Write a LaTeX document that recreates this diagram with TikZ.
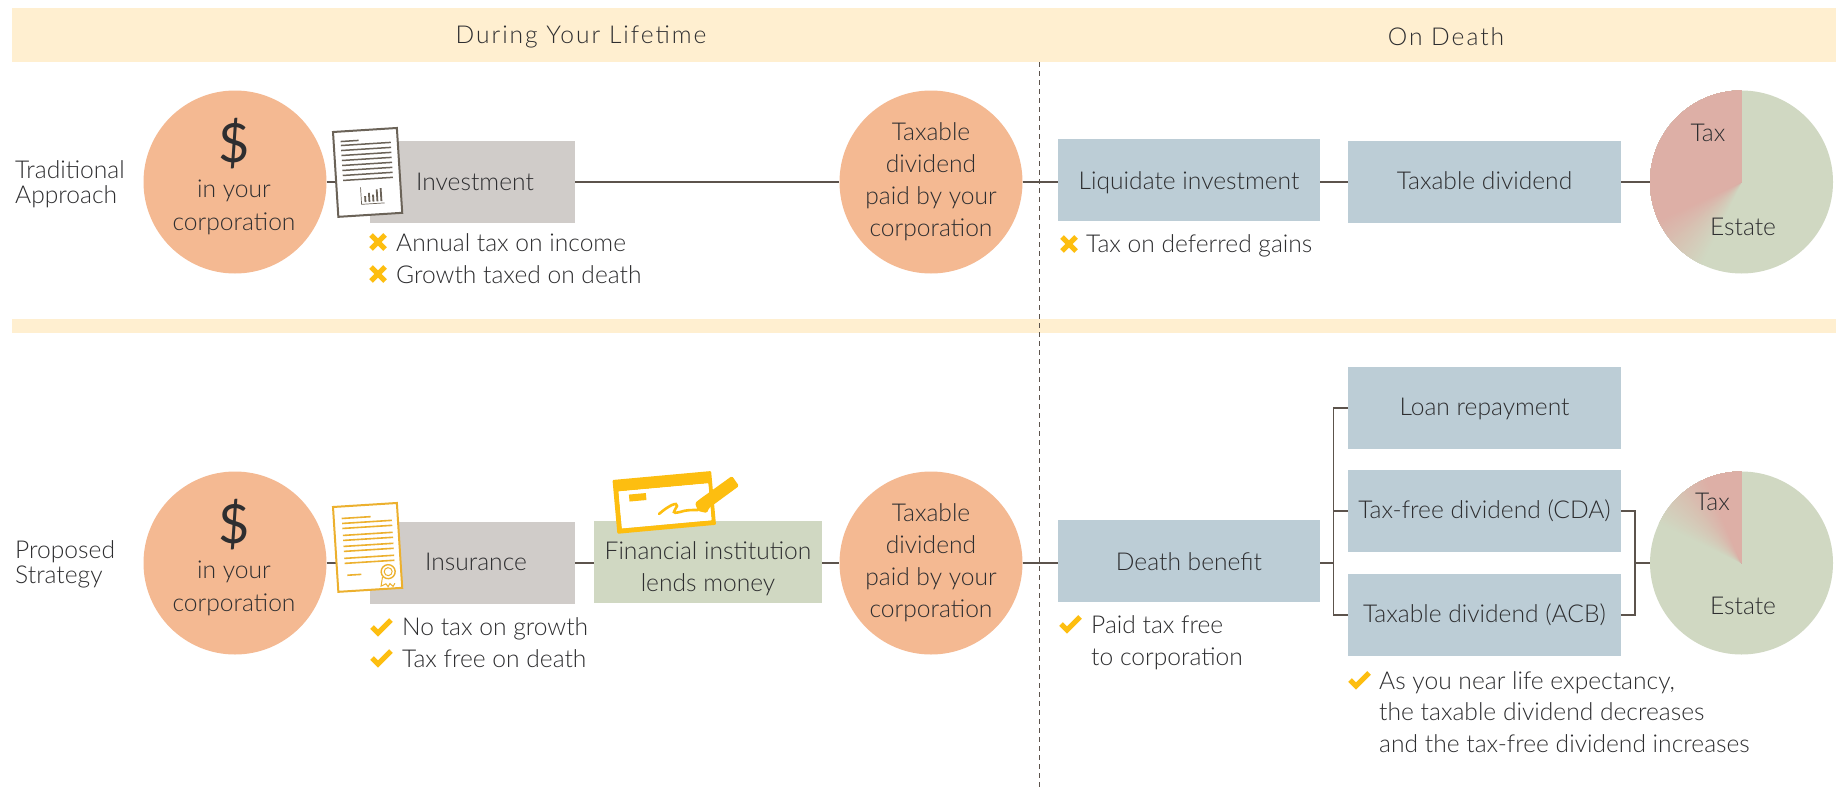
\documentclass[tikz,border=0pt]{standalone}
\usepackage{fontspec}
\setmainfont{Lato Light}
\newfontfamily\regfont{Lato}
\usetikzlibrary{calc}
\definecolor{banner}{HTML}{FFEFD0}
\definecolor{peach}{HTML}{F4B992}
\definecolor{greybox}{HTML}{D0CCC9}
\definecolor{bluebox}{HTML}{BCCDD6}
\definecolor{greenbox}{HTML}{D0D8C2}
\definecolor{piered}{HTML}{DDAFA6}
\definecolor{linec}{HTML}{5C534C}
\definecolor{ink}{HTML}{2E2E30}
\definecolor{gold}{HTML}{FDBE10}
\definecolor{certc}{HTML}{ECB02E}
\definecolor{docc}{HTML}{6B6358}
\tikzset{
  every node/.style={text=ink,font=\fontsize{24.6}{32}\selectfont},
  bannerbar/.style={fill=banner,draw=none},
  bubble/.style={circle,fill=peach,minimum size=183,inner sep=0,align=center},
  piebase/.style={circle,fill=greenbox,minimum size=183,inner sep=0},
  gbox/.style={fill=greybox,minimum width=205,minimum height=82,inner sep=0,align=center},
  bbox/.style={fill=bluebox,minimum width=273,minimum height=82,inner sep=0,align=center,text height=20,text depth=6},
  lbox/.style={fill=bluebox,minimum width=262,minimum height=82,inner sep=0,align=center,text height=22,text depth=4},
  fbox/.style={fill=greenbox,minimum width=228,minimum height=82,inner sep=0,align=center},
  conn/.style={draw=linec,line width=1.05pt},
  lab/.style={anchor=base west,inner sep=0,align=left},
  basec/.style={anchor=base,inner sep=0},
  xmk/.style={draw=gold,line width=5pt},
  ckm/.style={draw=gold,line width=5pt},
}
\newcommand{\xmk}[2]{\draw[xmk] (#1-7,#2-7) -- (#1+7,#2+7) (#1-7,#2+7) -- (#1+7,#2-7);}
\newcommand{\ckm}[2]{\draw[ckm] (#1-9,#2) -- (#1-3,#2+6) -- (#1+10,#2-7);}
\newcommand{\piewedge}[4]{% center x, y, angle at green end, angle at red end
  \begin{scope}[shift={(#1,#2)}]
    \clip (0,0) circle[radius=91.5];
    \foreach \k in {0,...,40}{
      \pgfmathsetmacro{\aa}{#3+\k*(#4-#3)/40}
      \pgfmathsetmacro{\pc}{\k*100/40}
      \pgfmathsetmacro{\mm}{(\aa+270)/2}
      \fill[piered!\pc!greenbox] (0,0) -- (\aa:220) -- (\mm:220) -- (270:220) -- cycle;
    }
  \end{scope}}
\begin{document}
\begin{tikzpicture}[x=1pt,y=-1pt]
\useasboundingbox (0,0) rectangle (1839,790);
\fill[white] (0,0) rectangle (1839,790);
% banners
\fill[bannerbar] (12,7.5) rectangle (1836,61.5);
\fill[bannerbar] (12,319) rectangle (1836,333);
\node (hlife) at (581,37) {\addfontfeature{LetterSpace=8}During Your Lifetime};
\node (hdeath) at (1446,37) {\addfontfeature{LetterSpace=8}On Death};
% divider
\coordinate (dtop) at (1039,62);
\coordinate (dbot) at (1039,790);
\draw[linec,line width=1pt,dash pattern=on 5pt off 4pt] (dtop) -- (dbot);
% row labels
\node[lab] (ltrad) at (15,178) {Traditional};
\node[lab] (ltrad2) at (15,203.5) {Approach};
\node[lab] (lprop) at (15,558) {Proposed};
\node[lab] (lprop2) at (15,583) {Strategy};
% top row
\node[bubble] (c1) at (235,182) {};
\node[font=\regfont\fontsize{54}{54}\selectfont] (d1) at (234,144) {\$};
\node[basec] (c1a) at (234,197) {in your};
\node[basec] (c1b) at (234,230) {corporation};
\node[gbox] (inv) at (472.5,182) {};
\node[basec] (invt) at (475,190.5) {Investment};
\node[bubble] (c2) at (931,182) {Taxable\\dividend\\paid by your\\corporation};
\node[lbox] (liq) at (1189,180) {Liquidate investment};
\node[bbox] (tdiv) at (1484.5,182) {Taxable dividend};
\node[piebase] (pie1) at (1741.5,182) {};
% bottom row
\node[bubble] (c3) at (235,563) {};
\node[font=\regfont\fontsize{54}{54}\selectfont] (d3) at (234,525) {\$};
\node[basec] (c3a) at (234,578) {in your};
\node[basec] (c3b) at (234,611) {corporation};
\node[gbox] (ins) at (472.5,563) {};
\node[basec] (inst) at (476,570.5) {Insurance};
\node[fbox] (fin) at (708,562) {};
\node[bubble] (c4) at (931,563) {Taxable\\dividend\\paid by your\\corporation};
\node[lbox] (dth) at (1189,561) {Death benefit};
\node[bbox] (loan) at (1484.5,408) {Loan repayment};
\node[bbox] (cda) at (1484.5,511) {Tax-free dividend (CDA)};
\node[bbox] (acb) at (1484.5,615) {Taxable dividend (ACB)};
\node[piebase] (pie2) at (1741.5,563) {};
% connectors
\draw[conn] (c1.east) -- (inv.west);
\draw[conn] (inv.east) -- (c2.west);
\draw[conn] (c2.east) -- (c2.east -| liq.west);
\draw[conn] (tdiv.west -| liq.east) -- (tdiv.west);
\draw[conn] (tdiv.east) -- (pie1.west);
\draw[conn] (c3.east) -- (ins.west);
\draw[conn] (ins.east) -- (ins.east -| fin.west);
\draw[conn] (fin.east |- c4.west) -- (c4.west);
\draw[conn] (c4.east) -- (c4.east -| dth.west);
\coordinate (busl) at (1333.7,563);
\coordinate (busr) at (1635,563);
\draw[conn] (dth.east |- busl) -- (busl);
\draw[conn] (loan.west) -| (busl);
\draw[conn] (acb.west) -| (busl);
\draw[conn] (cda.west) -- (cda.west -| busl);
\draw[conn] (cda.east) -| (busr);
\draw[conn] (acb.east) -| (busr);
\draw[conn] (busr) -- (pie2.west);
% pies
\piewedge{1741.5}{182}{115}{155}
\piewedge{1741.5}{563}{205}{247}
\node (p1t) at (1708,133) {Tax};
\node (p1e) at (1743,227) {Estate};
\node (p2t) at (1712.5,502) {Tax};
\node (p2e) at (1743,606) {Estate};
% financial text
\node[align=center] (fint) at (708,568.5) {Financial institution\\lends money};
% notes
\xmk{378}{242}\xmk{378}{274}
\node[lab] (n1) at (396,251) {Annual tax on income};
\node[lab] (n2) at (396,283) {Growth taxed on death};
\xmk{1069}{244}
\node[lab] (n3) at (1086,252) {Tax on deferred gains};
\ckm{381}{627}\ckm{381}{658}
\node[lab] (n4) at (402,635) {No tax on growth};
\node[lab] (n5) at (402,667) {Tax free on death};
\ckm{1070}{624}
\node[lab] (n6) at (1091,633) {Paid tax free};
\node[lab] (n7) at (1091,665) {to corporation};
\ckm{1359}{680}
\node[lab] (n8) at (1379,689) {As you near life expectancy,};
\node[lab] (n9) at (1379,720) {the taxable dividend decreases};
\node[lab] (n10) at (1379,752) {and the tax-free dividend increases};
% investment document icon
\begin{scope}[shift={(333,132)},rotate=3.6]
  \draw[draw=docc,fill=white,line width=2pt] (0,0) rectangle (64,85);
  \draw[docc,line width=1.5pt] (7,10) -- (25,10);
  \foreach \yy in {14,19,24,29,34,39,44,49}{\draw[docc,line width=1.5pt] (7,\yy) -- (57,\yy);}
  \draw[docc,line width=.7pt] (24,57) -- (24,74) -- (47,74);
  \foreach \xx/\hh in {28/6,32/9,36/7,40/12,44/13}{\draw[docc,line width=1.8pt] (\xx,72) -- (\xx,72-\hh);}
\end{scope}
% insurance certificate icon
\begin{scope}[shift={(333,507)},rotate=3.6]
  \draw[draw=certc,fill=white,line width=2pt] (0,0) rectangle (64,85);
  \draw[certc,line width=1.6pt] (8,12) -- (37,12);
  \foreach \yy in {17,22,29,34,40,45,52,57}{\draw[certc,line width=1.6pt] (8,\yy) -- (58,\yy);}
  \draw[certc,line width=1.6pt] (10,69) -- (24,69);
  \draw[certc,line width=1pt] (45,73) -- (43,82) -- (48,80) -- (50,83) -- (52,80) -- (55,83) -- (57,80);
  \draw[certc,fill=white,line width=1.4pt] (51,68) circle[radius=7];
  \draw[certc,line width=1pt] (51,68) circle[radius=4];
\end{scope}
% cheque icon
\begin{scope}[shift={(612.5,480)},rotate=5.2]
  \fill[gold,rounded corners=1pt,even odd rule] (0,0) rectangle (99,54) (5,12) rectangle (95,49);
  \fill[white] (5,12) rectangle (95,49);
  \fill[gold] (15,16) rectangle (32,23);
\end{scope}
\draw[gold,line width=2.6pt,line cap=round] (659,514) .. controls (668,506) and (678,501) .. (677,506) .. controls (674,512) and (671,514) .. (680,512) .. controls (686,510) and (690,510) .. (698,510);
\fill[gold,rounded corners=1.5pt] (695,503) -- (700,499) -- (732,476) -- (739,486) -- (709,508) -- (707,513) -- (698,511) -- cycle;
\end{tikzpicture}
\end{document}
